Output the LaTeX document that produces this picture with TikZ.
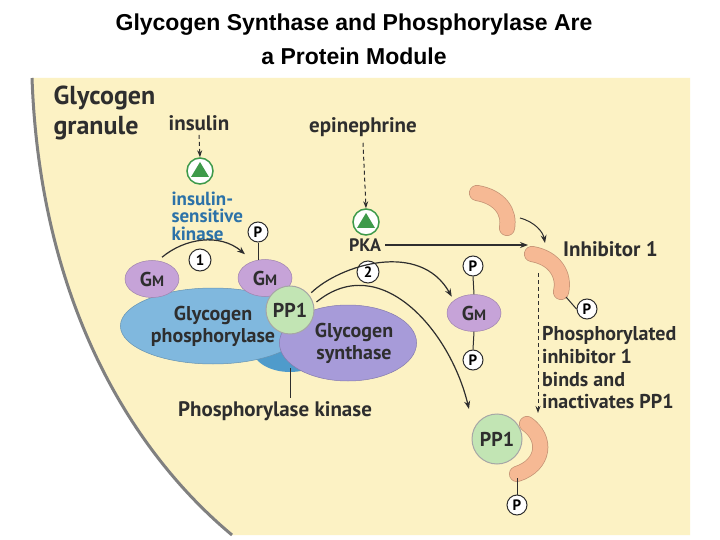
\documentclass[tikz,border=0pt]{standalone}
\usepackage{fontspec}
\setmainfont{PT Sans}
\newfontfamily\titlefont{Liberation Sans}
\usetikzlibrary{arrows.meta,calc,shapes.geometric}
\definecolor{beige}{HTML}{FCF2C4}
\definecolor{txt}{HTML}{2E2E2E}
\definecolor{gmcol}{HTML}{C6A3D8}
\definecolor{gpcol}{HTML}{80B8DE}
\definecolor{pkcol}{HTML}{4F9BCB}
\definecolor{gscol}{HTML}{A79BD9}
\definecolor{ppcol}{HTML}{C2E5B4}
\definecolor{inhcol}{HTML}{F6B994}
\definecolor{kblue}{HTML}{2C72A8}
\definecolor{kgreen}{HTML}{3E9A4A}
\tikzset{
 lab/.style={font=\bfseries\fontsize{21}{23}\selectfont,text=txt,inner sep=0pt},
 pcirc/.style={circle,draw=txt,line width=1pt,fill=white,minimum size=20pt,inner sep=0pt,font=\bfseries\fontsize{15}{15}\selectfont},
 gm/.style={ellipse,fill=gmcol,draw=gmcol!80!black,line width=0.5pt,minimum width=54pt,minimum height=37pt,inner sep=0pt,font=\bfseries\fontsize{20}{20}\selectfont,text=txt},
 arr/.style={-{Stealth[length=8pt,width=6pt]},line width=1.2pt,draw=txt},
 darr/.style={-{Stealth[length=7pt,width=5pt]},line width=1pt,draw=txt,dashed,dash pattern=on 4pt off 3pt},
 kin/.style={circle,draw=kgreen,line width=1.5pt,fill=white,minimum size=26pt,inner sep=0pt},
 inh/.style={line cap=round,line width=16pt,draw=inhcol!80!black},
 inhf/.style={line cap=round,line width=14.5pt,draw=inhcol},
 big/.style={align=center,font=\bfseries\fontsize{20}{22}\selectfont,text=txt},
}
\begin{document}
\begin{tikzpicture}[x=1pt,y=-1pt]
\useasboundingbox (0,0) rectangle (720,540);
\fill[white] (0,0) rectangle (720,540);
% panel
\fill[beige] (32,78) .. controls (40,300) and (130,450) .. (232,535) -- (690,535) -- (690,78) -- cycle;
\draw[gray,line width=3pt] (32,78) .. controls (40,300) and (130,450) .. (232,535);
% title
\node[font=\titlefont\bfseries\fontsize{23}{34}\selectfont,align=center] (title) at (354,39) {Glycogen Synthase and Phosphorylase Are\\a Protein Module};
\node[font=\bfseries\fontsize{26}{30}\selectfont,text=txt,align=left,anchor=north west] (gg) at (50,82) {Glycogen\\granule};
% insulin
\node[lab] (ins) at (199,123) {insulin};
\node[kin] (isk) at (200,171) {};
\fill[kgreen] ($(isk)+(0,-9)$) -- ($(isk)+(9,6)$) -- ($(isk)+(-9,6)$) -- cycle;
\draw[darr] (ins.south) ++(0,4) -- (isk.north);
\node[font=\bfseries\fontsize{19}{17.5}\selectfont,text=kblue,align=left,anchor=north west] (iskl) at (168,188) {insulin-\\sensitive\\kinase};
% epinephrine
\node[lab] (epi) at (363,127) {epinephrine};
\node[kin] (pka) at (366,222) {};
\fill[kgreen] ($(pka)+(0,-9)$) -- ($(pka)+(9,6)$) -- ($(pka)+(-9,6)$) -- cycle;
\draw[darr] (epi.south) ++(0,6) -- (pka.north);
\node[lab,font=\bfseries\fontsize{18}{18}\selectfont] (pkal) at (365,245) {PKA};
% complex
\node[ellipse,fill=pkcol,minimum width=76pt,minimum height=48pt] (pk) at (290,348) {};
\node[ellipse,fill=gpcol,draw=gpcol!80!black,line width=0.5pt,minimum width=130pt,minimum height=76pt,big] (gp) at (213,326) {Glycogen\\phosphorylase};
\node[ellipse,fill=gscol,draw=gscol!80!black,line width=0.5pt,minimum width=122pt,minimum height=76pt,big] (gs) at (348,343) {\hspace*{12pt}Glycogen\\\hspace*{12pt}synthase};
\node[gm] (gm2) at (265,278) {G\fontsize{15}{15}\selectfont M};
\node[circle,fill=ppcol,draw=gray!70,line width=1pt,minimum size=48pt,inner sep=0pt,font=\bfseries\fontsize{20}{20}\selectfont,text=txt] (pp1) at (290,310) {PP1};
\node[gm] (gm1) at (152,279) {G\fontsize{15}{15}\selectfont M};
\node[pcirc] (p1) at (258,232) {P};
\draw[txt,line width=1pt] (p1.south) -- ($(gm2.north)+(-7,1)$);
\node[pcirc,minimum size=22pt] (c1) at (200,260) {1};
\draw[arr] ($(gm1.north)+(10,-3)$) .. controls (185,238) and (220,233) .. ($(gm2.north)+(-20,-5)$);
% phosphorylase kinase label
\node[lab] (pkl) at (275,411) {Phosphorylase kinase};
\coordinate (pkt) at (290,368);
\coordinate (pkb) at (290,398);
\draw[txt,line width=1pt] (pkt) -- (pkb);
% PKA arrows
\node[pcirc,minimum size=22pt] (c2) at (368,272) {2};
\coordinate (inhA) at (528,245);
\draw[arr] (pkal.east) ++(4,0) -- (inhA);
\node[gm] (gm3) at (474,313) {G\fontsize{15}{15}\selectfont M};
\node[pcirc] (p3) at (473,266) {P};
\node[pcirc] (p4) at (473,360) {P};
\draw[txt,line width=1pt] (p3.south) -- (gm3.north);
\draw[txt,line width=1pt] (gm3.south) -- (p4.north);
\draw[arr] ($(pp1.north east)+(4,0)$) .. controls (340,265) and (420,240) .. ($(gm3.north west)+(-3,-3)$);
\node[circle,fill=ppcol,draw=gray!70,line width=1pt,minimum size=50pt,inner sep=0pt,font=\bfseries\fontsize{20}{20}\selectfont,text=txt] (pp1b) at (497,439) {PP1};
\draw[arr] ($(pp1.east)+(2,-8)$) .. controls (380,250) and (450,330) .. ($(pp1b.north west)+(-10,-12)$);
% inhibitors
\draw[inh] (477,193) .. controls (500,197) and (510,212) .. (507,228);
\draw[inhf] (477,193) .. controls (500,197) and (510,212) .. (507,228);
\draw[inh] (532,254) .. controls (555,258) and (565,275) .. (561,292);
\draw[inhf] (532,254) .. controls (555,258) and (565,275) .. (561,292);
\draw[inh] (527,424) .. controls (547,438) and (545,465) .. (517,474);
\draw[inhf] (527,424) .. controls (547,438) and (545,465) .. (517,474);
\coordinate (ia1) at (520,218);
\coordinate (ia2) at (545,243);
\draw[arr,line width=1pt] (ia1) .. controls (535,222) and (543,232) .. (ia2);
\node[lab,anchor=west] (inhl) at (563,249) {Inhibitor 1};
\node[pcirc] (p5) at (587,309) {P};
\coordinate (i2e) at (566,297);
\draw[txt,line width=1pt] (i2e) -- (p5.west);
\coordinate (da) at (538,273);
\coordinate (db) at (538,413);
\draw[darr] (da) -- (db);
\node[lab,anchor=north west,align=left,font=\bfseries\fontsize{20}{22.8}\selectfont] (pil) at (542,326) {Phosphorylated\\inhibitor 1\\binds and\\inactivates PP1};
\node[pcirc] (p6) at (517,505) {P};
\coordinate (i3e) at (517,478);
\draw[txt,line width=1pt] (i3e) -- (p6.north);
\end{tikzpicture}
\end{document}
